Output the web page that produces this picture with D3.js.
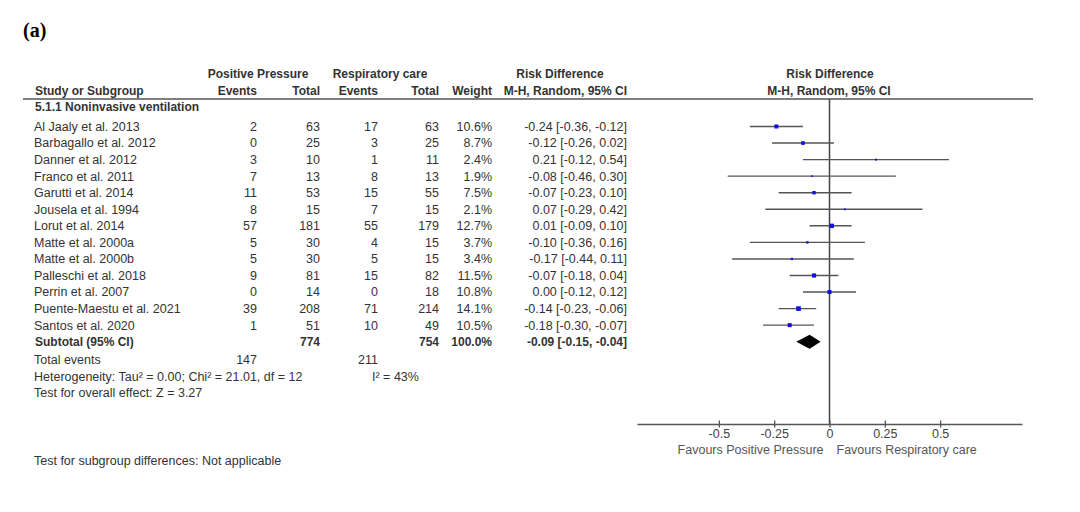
<!DOCTYPE html>
<html>
<head>
<meta charset="utf-8">
<script src="https://cdn.jsdelivr.net/npm/d3@7"></script>
<style>
  body { margin: 0; background: #fff; }
  svg text { font-family: "Liberation Sans", Arial, sans-serif; fill: #333; }
</style>
</head>
<body>
<div id="forest"></div>
<script>
// study rows
var studies = ["Al Jaaly et al. 2013", "Barbagallo et al. 2012", "Danner et al. 2012", "Franco et al. 2011",
  "Garutti et al. 2014", "Jousela et al. 1994", "Lorut et al. 2014", "Matte et al. 2000a", "Matte et al. 2000b",
  "Palleschi et al. 2018", "Perrin et al. 2007", "Puente-Maestu et al. 2021", "Santos et al. 2020"];
var ppEvents = [2, 0, 3, 7, 11, 8, 57, 5, 5, 9, 0, 39, 1];
var ppTotal = [63, 25, 10, 13, 53, 15, 181, 30, 30, 81, 14, 208, 51];
var rcEvents = [17, 3, 1, 8, 15, 7, 55, 4, 5, 15, 0, 71, 10];
var rcTotal = [63, 25, 11, 13, 55, 15, 179, 15, 15, 82, 18, 214, 49];
var weights = [10.6, 8.7, 2.4, 1.9, 7.5, 2.1, 12.7, 3.7, 3.4, 11.5, 10.8, 14.1, 10.5];
var rd = [-0.24, -0.12, 0.21, -0.08, -0.07, 0.07, 0.01, -0.10, -0.17, -0.07, 0.00, -0.14, -0.18];
var ciLo = [-0.36, -0.26, -0.12, -0.46, -0.23, -0.29, -0.09, -0.36, -0.44, -0.18, -0.12, -0.23, -0.30];
var ciHi = [-0.12, 0.02, 0.54, 0.30, 0.10, 0.42, 0.10, 0.16, 0.11, 0.04, 0.12, -0.06, -0.07];

// pooled result
var subtotal = {label: "Subtotal (95% CI)", ppTotal: 774, rcTotal: 754, weight: "100.0%", rd: -0.09, lo: -0.15, hi: -0.04};
var totalEvents = [147, 211];
var axisTicks = [-0.5, -0.25, 0, 0.25, 0.5];

var width = 1080, height = 512;
var svg = d3.select("#forest").append("svg")
    .attr("width", width)
    .attr("height", height);

function f2(v) { return v.toFixed(2); }
function ciText(e, l, h) { return f2(e) + " [" + f2(l) + ", " + f2(h) + "]"; }

// rows
var rows = studies.concat([subtotal.label]);
var y = d3.scalePoint().domain(rows).range([126.5, 341.7]);

// forest scale
var x = d3.scaleLinear().domain([-0.87, 0.87]).range([637, 1022]);
var box = d3.scaleSqrt().domain([0, 15]).range([0, 4.8]);

var colRight = {ppE: 257, ppT: 320, rcE: 378, rcT: 439, w: 492, ci: 627};

svg.append("text")
    .attr("x", 23).attr("y", 37)
    .style("font-family", "'Liberation Serif', 'Times New Roman', serif")
    .style("font-weight", "bold")
    .style("font-size", "20px")
    .style("fill", "#000")
    .text("(a)");

// headers
var hdr = svg.append("g").style("font-weight", "bold").style("font-size", "12px");
function htext(t, xx, yy, anchor) {
  hdr.append("text").attr("x", xx).attr("y", yy).attr("dy", "0.35em")
    .attr("text-anchor", anchor).text(t);
}
htext("Positive Pressure", 258, 74, "middle");
htext("Respiratory care", 380, 74, "middle");
htext("Risk Difference", 560, 74, "middle");
htext("Risk Difference", 830, 74, "middle");
htext("Study or Subgroup", 35, 90.5, "start");
htext("Events", colRight.ppE, 90.5, "end");
htext("Total", colRight.ppT, 90.5, "end");
htext("Events", colRight.rcE, 90.5, "end");
htext("Total", colRight.rcT, 90.5, "end");
htext("Weight", colRight.w, 90.5, "end");
htext("M-H, Random, 95% CI", colRight.ci, 90.5, "end");
htext("M-H, Random, 95% CI", 829, 90.5, "middle");
htext("5.1.1 Noninvasive ventilation", 35, 107, "start");

svg.append("line")
    .attr("x1", 23).attr("x2", 1033)
    .attr("y1", 99).attr("y2", 99)
    .attr("stroke", "#555").attr("stroke-width", 1.5);

// study table
var tbl = svg.append("g").style("font-size", "12.5px");
var rowG = tbl.selectAll("g.row").data(studies).enter().append("g")
    .attr("class", "row")
    .attr("transform", function(d) { return "translate(0," + y(d) + ")"; });

function col(sel, xx, fn, anchor) {
  sel.append("text").attr("x", xx).attr("dy", "0.35em")
    .attr("text-anchor", anchor || "end").text(fn);
}
col(rowG, 34, function(d) { return d; }, "start");
col(rowG, colRight.ppE, function(d, i) { return ppEvents[i]; });
col(rowG, colRight.ppT, function(d, i) { return ppTotal[i]; });
col(rowG, colRight.rcE, function(d, i) { return rcEvents[i]; });
col(rowG, colRight.rcT, function(d, i) { return rcTotal[i]; });
col(rowG, colRight.w, function(d, i) { return weights[i].toFixed(1) + "%"; });
col(rowG, colRight.ci, function(d, i) { return ciText(rd[i], ciLo[i], ciHi[i]); });

// subtotal row
var sub = svg.append("g")
    .attr("transform", "translate(0," + y(subtotal.label) + ")")
    .style("font-weight", "bold").style("font-size", "12px");
col(sub, 35, subtotal.label, "start");
col(sub, colRight.ppT, subtotal.ppTotal);
col(sub, colRight.rcT, subtotal.rcTotal);
col(sub, colRight.w, subtotal.weight);
col(sub, colRight.ci, ciText(subtotal.rd, subtotal.lo, subtotal.hi));

// footer text
var foot = svg.append("g").style("font-size", "12.5px");
function ftext(t, xx, yy, anchor) {
  return foot.append("text").attr("x", xx).attr("y", yy).attr("dy", "0.35em")
    .attr("text-anchor", anchor || "start").text(t);
}
ftext("Total events", 34, 359.5);
ftext(totalEvents[0], colRight.ppE, 359.5, "end");
ftext(totalEvents[1], colRight.rcE, 359.5, "end");
ftext("Heterogeneity: Tau\u00b2 = 0.00; Chi\u00b2 = 21.01, df = 12", 34, 376.5);
ftext("I\u00b2 = 43%", 372, 376.5);
ftext("Test for overall effect: Z = 3.27", 34, 393);
ftext("Test for subgroup differences: Not applicable", 34, 461);

// forest plot
var plot = svg.append("g");

plot.append("line")
    .attr("x1", x(0)).attr("x2", x(0))
    .attr("y1", 99).attr("y2", 424)
    .attr("stroke", "#444").attr("stroke-width", 1.5);

plot.selectAll("line.ci").data(studies).enter().append("line")
    .attr("class", "ci")
    .attr("x1", function(d, i) { return x(ciLo[i]); })
    .attr("x2", function(d, i) { return x(ciHi[i]); })
    .attr("y1", function(d) { return y(d); })
    .attr("y2", function(d) { return y(d); })
    .attr("stroke", "#555").attr("stroke-width", 1.4);

plot.selectAll("rect.pt").data(studies).enter().append("rect")
    .attr("class", "pt")
    .attr("x", function(d, i) { return x(rd[i]) - box(weights[i]) / 2; })
    .attr("y", function(d, i) { return y(d) - box(weights[i]) / 2; })
    .attr("width", function(d, i) { return box(weights[i]); })
    .attr("height", function(d, i) { return box(weights[i]); })
    .attr("fill", "#1010e0");

var dy = y(subtotal.label);
plot.append("path")
    .attr("d", "M" + x(subtotal.lo) + "," + dy +
               "L" + x(subtotal.rd) + "," + (dy - 7) +
               "L" + x(subtotal.hi) + "," + dy +
               "L" + x(subtotal.rd) + "," + (dy + 7) + "Z")
    .attr("fill", "#000");

// axis
var ax = svg.append("g")
    .attr("transform", "translate(0,424)")
    .call(d3.axisBottom(x).tickValues(axisTicks).tickSizeOuter(0)
      .tickFormat(function(d) { return d === 0 ? "0" : String(d); }));
ax.select(".domain").attr("stroke", "#555").attr("stroke-width", 1.5);
ax.selectAll(".tick line").attr("y1", -3.5).attr("y2", 3.5).attr("stroke", "#555").attr("stroke-width", 1.3);
ax.selectAll(".tick text")
    .attr("y", 5).attr("dy", "0.71em")
    .style("font-family", "'Liberation Sans', Arial, sans-serif")
    .style("font-size", "12.5px").style("fill", "#444");

svg.append("text")
    .attr("x", x(0) - 6).attr("y", 450).attr("dy", "0.35em")
    .attr("text-anchor", "end")
    .style("font-size", "12.5px").style("fill", "#555")
    .text("Favours Positive Pressure");
svg.append("text")
    .attr("x", x(0) + 7).attr("y", 450).attr("dy", "0.35em")
    .attr("text-anchor", "start")
    .style("font-size", "12.5px").style("fill", "#555")
    .text("Favours Respiratory care");
</script>
</body>
</html>
